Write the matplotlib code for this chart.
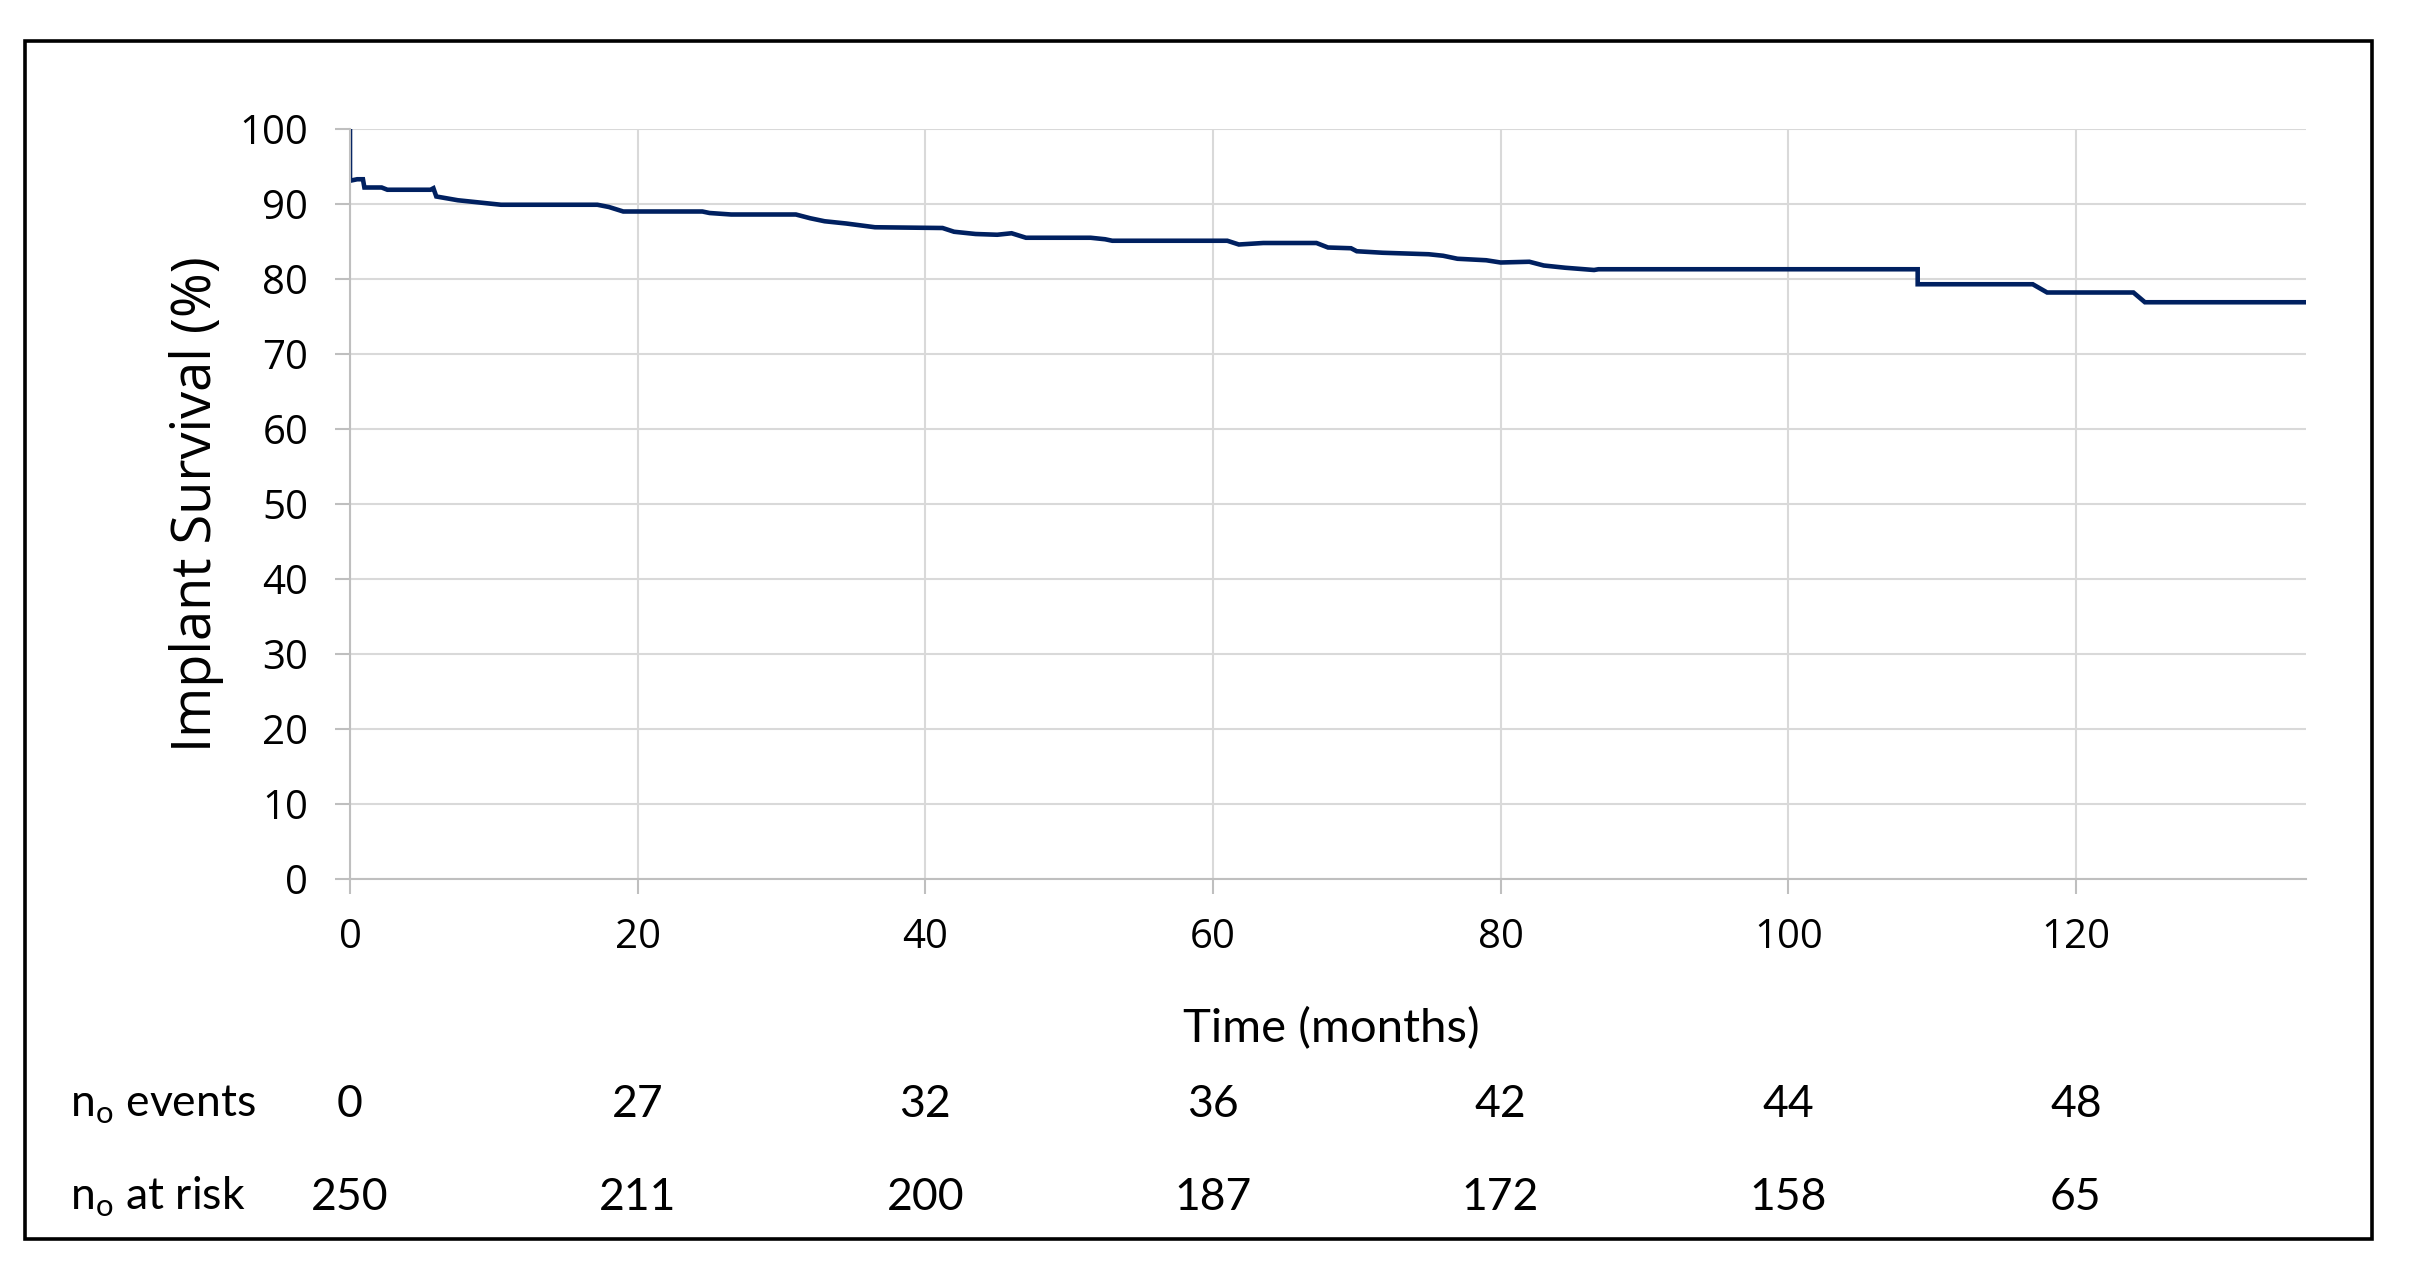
import matplotlib
matplotlib.use('Agg')
import matplotlib.pyplot as plt
import matplotlib.transforms as mtransforms
from matplotlib.patches import Rectangle

# '#' Kaplan-Meier curve (months, % survival)
months = [0, 0, 0.5, 0.9, 1.0, 2.2, 2.6, 5.6, 5.8, 6.0, 6.6, 7.5, 8.5, 9.5,
          10.5, 17.2, 18.0, 19.0, 24.5, 25.0, 26.5, 31.0, 32.0, 33.0, 34.5,
          36.5, 41.2, 42.0, 43.5, 45.0, 46.0, 47.0, 51.5, 52.5, 53.0, 61.0,
          61.8, 63.5, 67.2, 68.0, 69.6, 70.0, 71.8, 75.0, 76.0, 77.0, 79.0,
          80.0, 82.0, 83.0, 84.5, 86.5, 86.8, 109.0, 109.0, 117.0, 118.0,
          124.0, 124.8, 136.0]
survival = [100, 93.1, 93.3, 93.3, 92.2, 92.2, 91.9, 91.9, 92.1, 91.0, 90.8,
            90.5, 90.3, 90.1, 89.9, 89.9, 89.6, 89.0, 89.0, 88.8, 88.6, 88.6,
            88.1, 87.7, 87.4, 86.9, 86.8, 86.3, 86.0, 85.9, 86.1, 85.5, 85.5,
            85.3, 85.1, 85.1, 84.6, 84.8, 84.8, 84.2, 84.1, 83.7, 83.5, 83.3,
            83.1, 82.7, 82.5, 82.2, 82.3, 81.8, 81.5, 81.2, 81.3, 81.3, 79.3,
            79.3, 78.2, 78.2, 76.9, 76.9]

# '#' Table under the chart
table_months = [0, 20, 40, 60, 80, 100, 120]
n_events = [0, 27, 32, 36, 42, 44, 48]
n_at_risk = [250, 211, 200, 187, 172, 158, 65]

plt.rcParams['mathtext.fontset'] = 'custom'
plt.rcParams['mathtext.rm'] = 'Lato'

W, H = 2418, 1284
fig = plt.figure(figsize=(W / 100, H / 100), dpi=100)
ax = fig.add_axes([350 / W, 1 - 879 / H, (2306 - 350) / W, (879 - 129) / H])

ax.plot(months, survival, color='#002060', lw=3.3, solid_joinstyle='miter')

ax.set_xlim(0, 136)
ax.set_ylim(0, 100)
ax.set_xticks(range(0, 121, 20))
ax.set_yticks(range(0, 101, 10))
ax.grid(True, color='#d9d9d9', lw=1.5)
ax.set_axisbelow(True)
for s in ['top', 'right']:
    ax.spines[s].set_visible(False)
for s in ['left', 'bottom']:
    ax.spines[s].set_color('#bfbfbf')
    ax.spines[s].set_linewidth(1.5)
ax.tick_params(axis='both', direction='out', length=11, width=1.5, color='#bfbfbf',
               labelsize=29, labelfontfamily='Open Sans')
ax.tick_params(axis='y', pad=19)
ax.tick_params(axis='x', pad=17)

fig.text(196 / W, 1 - 504 / H, 'Implant Survival (%)', rotation=90,
         ha='center', va='center', fontsize=39, family='Open Sans')

# '#' Calibri-like text below the axes
tfont = dict(family='Lato', fontsize=32)
fig.text(1331 / W, 1 - 1042 / H, 'Time (months)', ha='center', va='baseline',
         family='Lato', fontsize=34)

trans = mtransforms.blended_transform_factory(ax.transData, fig.transFigure)
row_y = [1 - 1117 / H, 1 - 1210 / H]
fig.text(70 / W, row_y[0], r'n$_{\mathregular{o}}$ events', ha='left', va='baseline', **tfont)
fig.text(70 / W, row_y[1], r'n$_{\mathregular{o}}$ at risk', ha='left', va='baseline', **tfont)
for m, e, r in zip(table_months, n_events, n_at_risk):
    ax.text(m, row_y[0], str(e), transform=trans, ha='center', va='baseline', **tfont)
    ax.text(m, row_y[1], str(r), transform=trans, ha='center', va='baseline', **tfont)

# '#' Black frame around everything
fig.patches.append(Rectangle((24.5 / W, 1 - 1239 / H), (2371.7 - 24.5) / W, (1239 - 41) / H,
                             transform=fig.transFigure, fill=False, edgecolor='black',
                             lw=2.6))

fig.savefig('out.png', dpi=100, facecolor='white')
